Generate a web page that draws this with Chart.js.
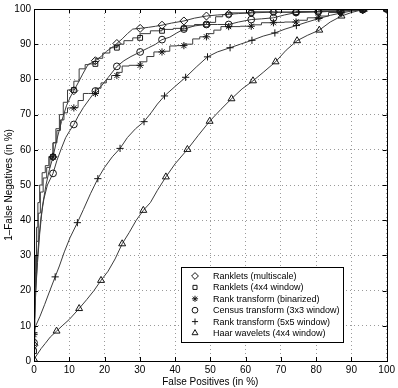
<!DOCTYPE html>
<html>
<head>
<meta charset="utf-8">
<script src="https://cdn.jsdelivr.net/npm/chart.js@4.4.1/dist/chart.umd.min.js"></script>
<style>
  html, body { margin: 0; padding: 0; background: #fff; }
  #wrap { width: 398px; height: 388px; }
</style>
</head>
<body>
<div id="wrap"><canvas id="roc" width="398" height="388"></canvas></div>
<script>
// ROC curves, values (x: false positives %, y: 1 - false negatives %)
const msX = [0, 0.2, 0.5, 1.0, 1.6, 2.4, 3.4, 4.4, 5.4, 6.5, 7.8, 9.2, 10.3, 11.3, 12.5, 13.8, 15.2, 16.4, 17.4, 19.0, 20.6, 22.0, 23.5, 25.0, 26.5, 28.0, 30.1, 32.5, 34.5, 36.3, 39.0, 42.5, 45.5, 48.9, 52.0, 55.2, 58.0, 61.6, 67.9, 74.3, 80.6, 86.9, 93.2, 100];
const msY = [4.5, 12, 20, 28, 36, 44, 50, 54.5, 58, 63, 68, 72.5, 75, 76.8, 79, 81.5, 84, 84.8, 85.3, 86.5, 88, 89, 90.2, 91.5, 93, 94.3, 94.5, 94.8, 95.1, 95.4, 96, 96.6, 97.4, 98, 98.3, 98.5, 98.7, 98.9, 99.1, 99.1, 99.2, 99.4, 99.8, 100];

const r44X = [0, 0.2, 0.4, 0.7, 1.1, 1.6, 2.3, 3.2, 4.2, 5.4, 6.2, 7.2, 8.3, 9.5, 11.3, 12.8, 14.5, 15.5, 17.4, 19.5, 21.5, 23.5, 25.5, 28.0, 30.1, 33.0, 36.3, 39.5, 42.5, 45.5, 48.9, 51.5, 53.5, 55.2, 61.6, 67.9, 74.3, 80.6, 86.9, 93.2, 100];
const r44Y = [2.8, 12, 21, 30, 38, 45, 50, 53.5, 55.5, 58, 62, 66, 70, 73.5, 77, 79.5, 83, 84.2, 84.4, 86, 87.5, 89, 90, 91, 91.8, 93, 93.8, 94.2, 94.5, 95.2, 95.6, 96.2, 97.8, 98.4, 98.9, 99.2, 99.1, 99.3, 99.5, 99.8, 100];

const binX = [0, 0.3, 0.7, 1.2, 1.8, 2.6, 3.6, 4.5, 5.4, 6.5, 7.5, 8.5, 9.5, 11.3, 12.5, 14.0, 15.5, 17.4, 19.0, 20.5, 22.0, 23.5, 25.0, 27.0, 30.1, 32.0, 34.0, 36.3, 38.5, 40.5, 42.5, 45.0, 47.0, 48.9, 51.0, 53.0, 55.2, 58.5, 61.6, 64.5, 67.9, 71.0, 74.3, 77.5, 80.6, 83.5, 86.9, 93.2, 100];
const binY = [7.5, 16, 25, 34, 42, 48, 52, 55, 58, 62, 65.5, 68.5, 70.5, 71.9, 72, 74, 76, 76, 77.5, 79, 80, 81.1, 82, 83.8, 84, 85, 86.5, 87.8, 88, 89.5, 89.6, 90, 91.5, 92.1, 93, 94, 95, 95, 95.1, 95.5, 96.1, 96.2, 96.3, 96.8, 97.5, 98, 99, 99.7, 100];

const cenX = [0, 0.2, 0.5, 0.9, 1.4, 2.0, 2.8, 3.8, 5.4, 6.5, 7.8, 9.0, 10.2, 11.3, 12.5, 14.0, 15.8, 17.4, 19.0, 21.0, 23.5, 25.5, 27.5, 30.1, 32.5, 34.5, 36.3, 38.5, 40.5, 42.5, 45.5, 48.9, 52.0, 55.2, 58.0, 61.6, 64.5, 67.9, 71.0, 74.3, 80.6, 86.9, 93.2, 100];
const cenY = [5.2, 12, 20, 28, 35, 41, 46, 50, 53.3, 57, 60.5, 63.5, 65.5, 67.2, 69.5, 72, 74.5, 76.7, 78, 80.5, 83.7, 85.3, 86.5, 87.8, 89, 90, 91.3, 92, 93.2, 94.3, 95.2, 95.6, 95.6, 95.6, 96.3, 97, 97.2, 97.5, 98.3, 99, 99.2, 99.4, 99.8, 100];

const r55X = [0, 0.5, 1.7, 3.0, 4.5, 6.0, 7.2, 8.6, 10.2, 12.3, 14.0, 16.0, 18.1, 20.0, 22.2, 24.4, 26.5, 28.8, 31.2, 33.2, 35.0, 37.0, 40.0, 43.0, 46.0, 49.2, 52.0, 55.6, 58.5, 61.8, 65.0, 68.3, 71.2, 74.4, 77.5, 80.8, 84.0, 87.2, 90.0, 93.3, 100];
const r55Y = [8, 10, 12.7, 16, 20, 23.9, 27, 31, 35, 39.3, 43, 47.5, 51.8, 55, 58, 60.4, 63.5, 66, 68, 70.5, 73, 75.3, 78, 80.6, 83.5, 86.4, 87.8, 89, 90, 91.1, 92.3, 93.2, 94.3, 95.3, 96.3, 97.3, 98.2, 98.9, 99.4, 99.8, 100];

const haarX = [0, 1.0, 2.0, 3.2, 4.6, 6.4, 8.0, 10.0, 12.8, 15.0, 17.0, 19.0, 21.0, 23.0, 25.0, 27.0, 29.0, 31.0, 33.0, 35.0, 37.4, 40.0, 43.5, 46.5, 49.8, 53.0, 56.0, 59.0, 62.1, 65.0, 68.5, 71.5, 74.6, 77.5, 80.9, 84.0, 87.2, 90.0, 93.5, 100];
const haarY = [0.5, 2, 3.5, 5, 6.8, 8.5, 10, 11.8, 14.9, 17.5, 20, 22.9, 25.5, 29, 33.3, 36.5, 40, 42.8, 45, 48.5, 52.3, 56, 60.1, 64, 68.1, 71.5, 74.5, 77.3, 79.6, 82, 85, 88.3, 91, 92.5, 94, 96.3, 98, 99, 99.9, 100];

// x positions where the symbols sit on each curve
const markEven = [0, 5.4, 11.3, 17.4, 23.5, 30.1, 36.3, 42.5, 48.9, 55.2, 61.6, 67.9, 74.3, 80.6, 86.9, 93.2, 100];
const markR55 = [0, 6.0, 12.3, 18.1, 24.4, 31.2, 37.0, 43.0, 49.2, 55.6, 61.8, 68.3, 74.4, 80.8, 87.2, 93.3, 100];
const markHaar = [0, 6.4, 12.8, 19.0, 25.0, 31.0, 37.4, 43.5, 49.8, 56.0, 62.1, 68.5, 74.6, 80.9, 87.2, 93.5, 100];

const axisTicks = [0, 10, 20, 30, 40, 50, 60, 70, 80, 90, 100];

const FONT = "'Liberation Sans', Arial, Helvetica, sans-serif";
const LINE = '#3c3c3c';
const INK = '#151515';

const series = [
  { label: 'Ranklets (multiscale)', xs: msX, ys: msY, marks: markEven, style: 'rectRot', r: 4, stepped: false },
  { label: 'Ranklets (4x4 window)', xs: r44X, ys: r44Y, marks: markEven, style: 'rect', r: 3.4, stepped: 'after' },
  { label: 'Rank transform (binarized)', xs: binX, ys: binY, marks: markEven, style: 'star', r: 3.6, stepped: 'after' },
  { label: 'Census transform (3x3 window)', xs: cenX, ys: cenY, marks: markEven, style: 'circle', r: 3.4, stepped: false },
  { label: 'Rank transform (5x5 window)', xs: r55X, ys: r55Y, marks: markR55, style: 'cross', r: 3.6, stepped: false },
  { label: 'Haar wavelets (4x4 window)', xs: haarX, ys: haarY, marks: markHaar, style: 'triangle', r: 4, stepped: false },
];

const toPoints = (xs, ys) => xs.map((x, i) => ({ x, y: ys[i] }));

const datasets = [];
series.forEach((s) => {
  const pts = toPoints(s.xs, s.ys);
  datasets.push({
    label: s.label,
    data: pts,
    showLine: true,
    stepped: s.stepped,
    borderColor: LINE,
    borderWidth: 1,
    pointRadius: 0,
    order: 2,
    isLine: true,
  });
  datasets.push({
    label: s.label,
    data: pts.filter((p) => s.marks.includes(p.x)),
    showLine: false,
    pointStyle: s.style,
    pointRadius: s.r,
    pointBorderColor: INK,
    pointBackgroundColor: 'rgba(0,0,0,0)',
    pointBorderWidth: 1,
    order: 1,
    isMarker: true,
  });
});

// frame round the plot with small inward ticks, like the original
const framePlugin = {
  id: 'frame',
  afterDatasetsDraw(chart) {
    const { ctx, chartArea: a, scales } = chart;
    ctx.save();
    ctx.strokeStyle = '#000';
    ctx.lineWidth = 1;
    ctx.strokeRect(Math.round(a.left) + 0.5, Math.round(a.top) + 0.5,
      Math.round(a.right - a.left), Math.round(a.bottom - a.top));
    ctx.beginPath();
    axisTicks.forEach((v) => {
      const px = Math.round(scales.x.getPixelForValue(v)) + 0.5;
      ctx.moveTo(px, a.bottom); ctx.lineTo(px, a.bottom - 4);
      ctx.moveTo(px, a.top); ctx.lineTo(px, a.top + 4);
      const py = Math.round(scales.y.getPixelForValue(v)) + 0.5;
      ctx.moveTo(a.left, py); ctx.lineTo(a.left + 4, py);
      ctx.moveTo(a.right, py); ctx.lineTo(a.right - 4, py);
    });
    ctx.stroke();
    ctx.restore();
  },
};

// boxed legend inside the lower right of the plot
const legendPlugin = {
  id: 'boxLegend',
  afterDraw(chart) {
    const { ctx } = chart;
    const items = chart.data.datasets.filter((d) => d.isMarker);
    const box = { x: 181, y: 267, w: 162, h: 75 };
    ctx.save();
    ctx.fillStyle = '#fff';
    ctx.fillRect(box.x, box.y, box.w, box.h);
    ctx.strokeStyle = '#000';
    ctx.lineWidth = 1;
    ctx.strokeRect(box.x + 0.5, box.y + 0.5, box.w, box.h);
    ctx.font = '9px ' + FONT;
    ctx.textBaseline = 'middle';
    items.forEach((d, i) => {
      const y = box.y + 9 + i * 11.4;
      ctx.strokeStyle = INK;
      ctx.fillStyle = 'rgba(0,0,0,0)';
      ctx.lineWidth = 1;
      Chart.helpers.drawPoint(ctx, {
        pointStyle: d.pointStyle,
        radius: d.pointRadius * 0.85,
        borderWidth: 1,
        rotation: 0,
      }, box.x + 14, y);
      ctx.fillStyle = '#000';
      ctx.fillText(d.label, box.x + 32, y + 0.5);
    });
    ctx.restore();
  },
};

new Chart(document.getElementById('roc'), {
  type: 'scatter',
  data: { datasets },
  options: {
    responsive: false,
    animation: false,
    layout: { padding: { top: 9, right: 11, left: 0, bottom: 0 } },
    plugins: {
      legend: { display: false },
      tooltip: { enabled: false },
    },
    scales: {
      x: {
        type: 'linear',
        min: 0,
        max: 100,
        afterFit: (scale) => { scale.height = 27; },
        afterBuildTicks: (scale) => { scale.ticks = axisTicks.map((v) => ({ value: v })); },
        ticks: { color: '#000', font: { family: FONT, size: 10 }, padding: 3, maxRotation: 0 },
        grid: { color: '#9a9a9a', drawTicks: false },
        border: { display: false, dash: [1, 3] },
        title: {
          display: true,
          text: 'False Positives (in %)',
          color: '#000',
          font: { family: FONT, size: 10 },
          padding: 0,
        },
      },
      y: {
        type: 'linear',
        min: 0,
        max: 100,
        afterFit: (scale) => { scale.width = 34; },
        afterBuildTicks: (scale) => { scale.ticks = axisTicks.map((v) => ({ value: v })); },
        ticks: { color: '#000', font: { family: FONT, size: 10 }, padding: 3 },
        grid: { color: '#9a9a9a', drawTicks: false },
        border: { display: false, dash: [1, 3] },
        title: {
          display: true,
          text: '1\u2013False Negatives (in %)',
          color: '#000',
          font: { family: FONT, size: 10 },
          padding: { top: 3, bottom: 0 },
        },
      },
    },
  },
  plugins: [framePlugin, legendPlugin],
});
</script>
</body>
</html>
